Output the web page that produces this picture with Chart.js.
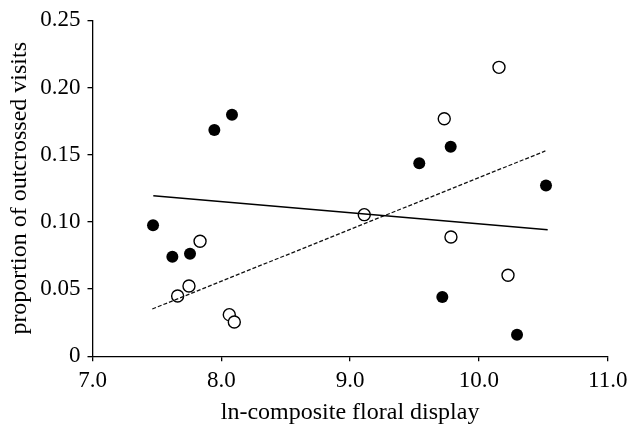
<!DOCTYPE html>
<html>
<head>
<meta charset="utf-8">
<script src="https://cdn.jsdelivr.net/npm/chart.js@4"></script>
<style>
html,body{margin:0;padding:0;background:#fff;}
#wrap{width:630px;height:425px;}
</style>
</head>
<body>
<div id="wrap"><canvas id="c" width="630" height="425"></canvas></div>
<script>
const filledX = [7.47, 7.62, 7.757, 7.946, 8.083, 9.537, 9.781, 10.521, 9.716, 10.296];
const filledY = [0.0975, 0.0741, 0.0763, 0.1684, 0.1798, 0.1436, 0.156, 0.127, 0.0441, 0.0161];
const openX = [10.156, 9.731, 9.11, 9.783, 10.226, 7.835, 7.749, 7.661, 8.062, 8.101];
const openY = [0.215, 0.1768, 0.1054, 0.0888, 0.0603, 0.0856, 0.0523, 0.0449, 0.031, 0.0255];
const solidLineX = [7.472, 10.534];
const solidLineY = [0.1195, 0.0942];
const dashedLineX = [7.464, 10.516];
const dashedLineY = [0.0352, 0.1528];
const xTicks = [7, 8, 9, 10, 11];
const yTicks = [0, 0.05, 0.10, 0.15, 0.20, 0.25];

const pts = (xs, ys) => xs.map((x, i) => ({x: x, y: ys[i]}));
const fam = '"Liberation Serif", "DejaVu Serif", serif';
const tickFont = {family: fam, size: 23};
const titleFont = {family: fam, size: 24};

new Chart(document.getElementById('c'), {
  type: 'scatter',
  data: {
    datasets: [
      {type: 'line', data: pts(solidLineX, solidLineY), borderColor: '#000', borderWidth: 1.4, pointRadius: 0, fill: false},
      {type: 'line', data: pts(dashedLineX, dashedLineY), borderColor: '#111', borderWidth: 1.3, borderDash: [4, 2], pointRadius: 0, fill: false},
      {data: pts(filledX, filledY), pointRadius: 6, pointBackgroundColor: '#000', pointBorderColor: '#000', pointBorderWidth: 0},
      {data: pts(openX, openY), pointRadius: 6, pointBackgroundColor: '#fff', pointBorderColor: '#000', pointBorderWidth: 1.4}
    ]
  },
  options: {
    responsive: false,
    animation: false,
    events: [],
    layout: {padding: {left: 0, right: 22.3, top: 20.3, bottom: 0}},
    plugins: {legend: {display: false}, tooltip: {enabled: false}},
    scales: {
      x: {
        type: 'linear', min: 7, max: 11,
        afterBuildTicks: s => { s.ticks = xTicks.map(v => ({value: v})); },
        afterFit: s => { s.height = 68.7; s.paddingRight = 0; s.paddingLeft = 0; },
        grid: {drawOnChartArea: false, drawTicks: true, tickLength: 5, color: '#000', lineWidth: 1.3},
        border: {display: true, color: '#000', width: 1.3},
        ticks: {color: '#000', font: tickFont, padding: 6, maxRotation: 0, callback: v => v.toFixed(1)},
        title: {display: true, text: 'ln-composite floral display', color: '#000', font: titleFont, padding: {top: 0, bottom: -2}}
      },
      y: {
        type: 'linear', min: 0, max: 0.25,
        afterBuildTicks: s => { s.ticks = yTicks.map(v => ({value: v})); },
        afterFit: s => { s.width = 92.5; s.paddingTop = 0; s.paddingBottom = 0; },
        grid: {drawOnChartArea: false, drawTicks: true, tickLength: 5, color: '#000', lineWidth: 1.3},
        border: {display: true, color: '#000', width: 1.3},
        ticks: {color: '#000', font: tickFont, padding: 7, callback: v => v === 0 ? '0' : v.toFixed(2)},
        title: {display: true, text: 'proportion of outcrossed visits', color: '#000', font: titleFont, padding: {top: 5, bottom: 0}}
      }
    }
  }
});
</script>
</body>
</html>
